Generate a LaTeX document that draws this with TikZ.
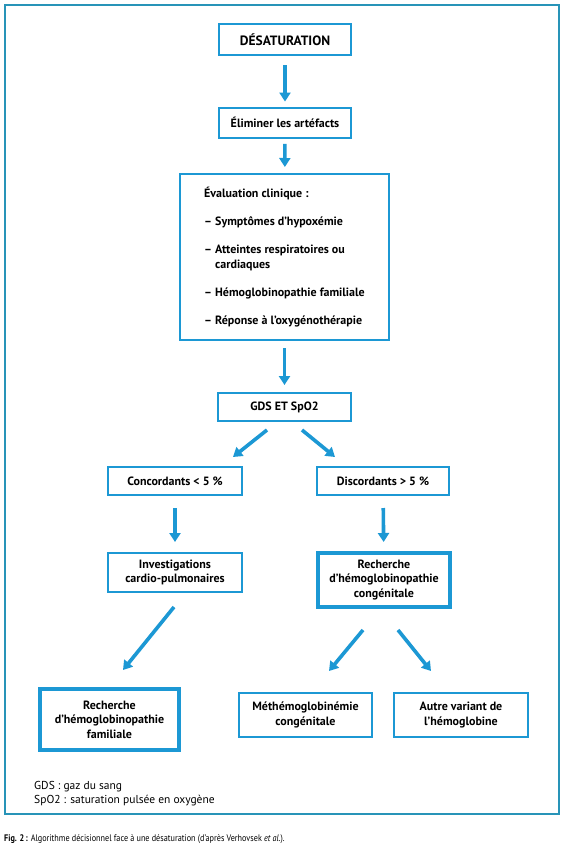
\documentclass[tikz,border=0pt]{standalone}
\usepackage{fontspec}
\setmainfont{PT Sans}
\usetikzlibrary{arrows.meta,calc}
\definecolor{boxblue}{RGB}{28,152,212}
\definecolor{framecol}{RGB}{40,148,184}
\begin{document}
\begin{tikzpicture}[x=1pt,y=-1pt,
  box/.style={draw=boxblue,line width=2.4pt,align=center,inner sep=2pt,
    font=\bfseries\fontsize{12}{14.5}\selectfont},
  thickbox/.style={box,line width=3.8pt},
  arr/.style={draw=boxblue,line width=3.6pt,-{Triangle[width=11pt,length=9pt]}},
  note/.style={anchor=base west,inner sep=0pt,font=\fontsize{11.5}{13}\selectfont}]
\useasboundingbox (0,0) rectangle (564,852);
\fill[white] (0,0) rectangle (564,852);
\draw[framecol,line width=2pt] (4.5,5) rectangle (558.5,814);

\node[box,minimum width=131.6,minimum height=30.6,font=\bfseries\fontsize{13.5}{15}\selectfont] (des) at (285,39.5) {DÉSATURATION};
\node[box,minimum width=131.6,minimum height=30] (elim) at (285,122.75) {Éliminer les artéfacts};
\node[box,minimum width=208.6,minimum height=165.6,align=left,font=\bfseries\fontsize{12}{15}\selectfont] (eval) at (284.5,257)
  {Évaluation clinique :\\[13pt]
   – Symptômes d’hypoxémie\\[13pt]
   – Atteintes respiratoires ou\\
   \phantom{– }cardiaques\\[13pt]
   – Hémoglobinopathie familiale\\[13pt]
   – Réponse à l’oxygénothérapie};
\node[box,minimum width=132.6,minimum height=27.6] (gds) at (284.5,407) {GDS ET SpO2};
\node[box,minimum width=133.6,minimum height=27.6] (conc) at (175,481) {Concordants < 5 \%};
\node[box,minimum width=131.6,minimum height=27.6] (disc) at (383,481) {Discordants > 5 \%};
\node[box,minimum width=133.6,minimum height=38.6] (inv) at (175,572.5) {Investigations\\cardio-pulmonaires};
\node[thickbox,minimum width=132.2,minimum height=54.2] (rechc) at (384,580) {Recherche\\d’hémoglobinopathie\\congénitale};
\node[thickbox,minimum width=139.2,minimum height=61.2] (rechf) at (109.5,719.5) {Recherche\\d’hémoglobinopathie\\familiale};
\node[box,minimum width=132.6,minimum height=43.6] (meth) at (305.5,715) {Méthémoglobinémie\\congénitale};
\node[box,minimum width=133.6,minimum height=43.6] (autre) at (461,715) {Autre variant de\\l’hémoglobine};

\draw[arr,shorten <=9pt,shorten >=5pt] (des) -- (elim);
\draw[arr,shorten <=5pt,shorten >=6pt] (elim) -- (eval);
\draw[arr,shorten <=7pt,shorten >=7pt] (eval) -- (gds);
\draw[arr,shorten <=12pt,shorten >=10pt] (conc) -- (inv);
\draw[arr,shorten <=12pt,shorten >=9pt] (disc) -- (rechc);
\draw[arr] ($(gds.south)+(-17.5,8)$) -- ($(conc.north)+(58,-9)$);
\draw[arr] ($(gds.south)+(17.5,8)$) -- ($(disc.north)+(-48,-9)$);
\draw[arr] ($(inv.south)+(-1,14)$) -- ($(rechf.north)+(13.5,-17)$);
\draw[arr] ($(rechc.south)+(-21,21)$) -- ($(meth.north)+(23.5,-21)$);
\draw[arr] ($(rechc.south)+(14,21)$) -- ($(autre.north)+(-30,-21)$);

\node[note] (n1) at (34,789) {GDS : gaz du sang};
\node[note] (n2) at (34,803) {SpO2 : saturation pulsée en oxygène};
\node[anchor=base west,inner sep=0pt,font=\fontsize{9.5}{11}\selectfont] (cap) at (4,841)
  {\scalebox{0.86}[1]{{\bfseries Fig. 2\,:} Algorithme décisionnel face à une désaturation (d’après Verhovsek {\itshape et al.}).}};
\end{tikzpicture}
\end{document}
